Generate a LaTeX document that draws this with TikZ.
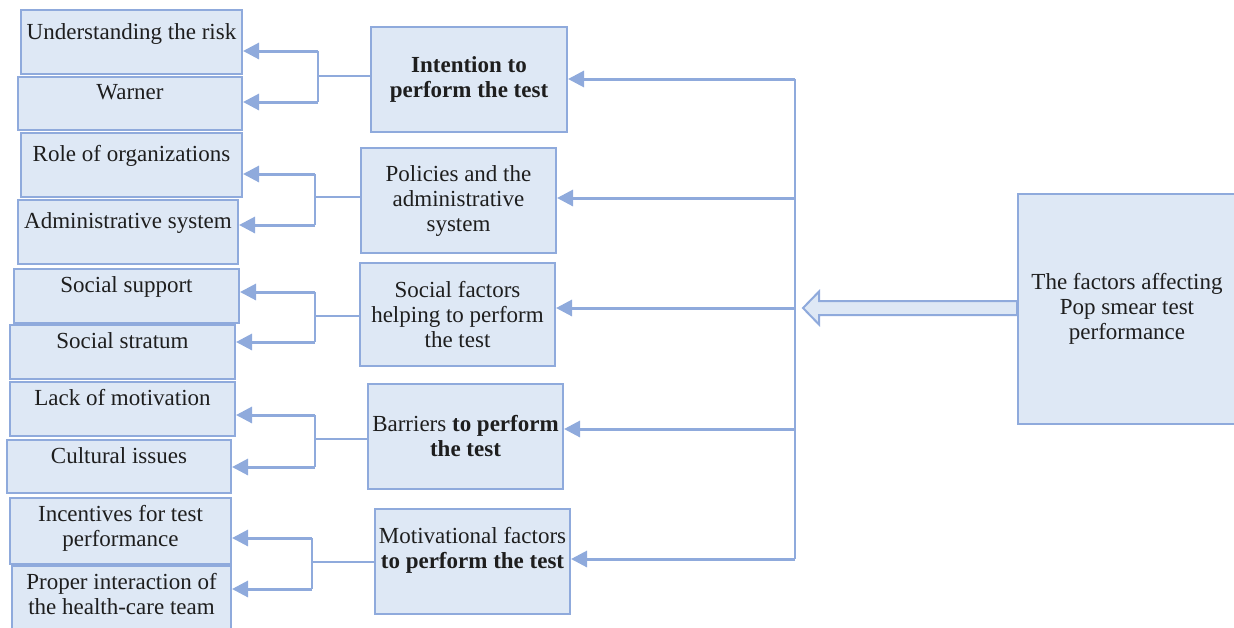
\documentclass[tikz,border=0pt]{standalone}
\usepackage{fontspec}
\setmainfont{Liberation Serif}
\usetikzlibrary{arrows.meta,calc}

\definecolor{boxline}{HTML}{8FAADC}
\definecolor{boxfill}{HTML}{DEE8F5}
\definecolor{inktext}{HTML}{1E1E1E}

\tikzset{
  leaf/.style={draw=boxline, fill=boxfill, line width=1pt, inner sep=0pt},
  toptext/.style={anchor=north, inner sep=0pt, yshift=-4pt, align=center},
  factor/.style={draw=boxline, fill=boxfill, line width=1pt, align=center, inner sep=2pt},
  fatarrow/.style={draw=boxline, line width=1.5pt, -{Triangle[length=8pt,width=8pt]}},
  thinline/.style={draw=boxline, line width=0.6pt},
  busline/.style={draw=boxline, line width=0.9pt},
  bigarrow/.style={draw=boxline, fill=boxfill, line width=1pt}
}

\begin{document}
\begin{tikzpicture}[x=0.5pt, y=-0.5pt, font=\fontsize{11.5}{12.5}\selectfont, text=inktext]
    \useasboundingbox (0,0) rectangle (1234,627);
    % Left column
    \node[leaf, minimum width=110.5pt, minimum height=32pt, label={[toptext, yshift=-3pt]north:Understanding the risk}] (risk) at (131.5,42) {};
    \node[leaf, minimum width=112pt, minimum height=26.5pt, label={[toptext]north:Warner}] (warner) at (130,103.5) {};
    \node[leaf, minimum width=110.5pt, minimum height=32pt, label={[toptext, yshift=-2.5pt]north:Role of organizations}] (roleorg) at (131.5,165) {};
    \node[leaf, minimum width=110pt, minimum height=32pt, label={[toptext, yshift=-2.5pt]north:Administrative system}] (admin) at (128,232) {};
    \node[leaf, minimum width=112.5pt, minimum height=27pt, label={[toptext]north:Social support}] (support) at (126.5,296) {};
    \node[leaf, minimum width=112.5pt, minimum height=27pt, label={[toptext]north:Social stratum}] (stratum) at (122.5,352) {};
    \node[leaf, minimum width=112.5pt, minimum height=27pt, label={[toptext]north:Lack of motivation}] (lack) at (122.5,409) {};
    \node[leaf, minimum width=112pt, minimum height=26.5pt, label={[toptext]north:Cultural issues}] (cultural) at (119,466.5) {};
    \node[leaf, minimum width=110.5pt, minimum height=33pt, label={[toptext]north:Incentives for test\\performance}] (incent) at (120.5,531) {};
    \node[leaf, minimum width=109.5pt, minimum height=32pt, label={[toptext]north:Proper interaction of\\the health-care team}] (proper) at (121.5,598) {};
    % Middle column
    \node[factor, minimum width=98pt, minimum height=52.5pt] (intent) at (469,79.5) {\textbf{Intention to}\\\textbf{perform the test}};
    \node[factor, minimum width=97.5pt, minimum height=52.5pt] (policy) at (458.5,200.5) {Policies and the\\administrative\\system};
    \node[factor, minimum width=97.5pt, minimum height=51.5pt] (social) at (457.5,314.5) {Social factors\\helping to perform\\the test};
    \node[factor, minimum width=97.5pt, minimum height=52.5pt] (barrier) at (465.5,436.5) {Barriers \textbf{to perform}\\\textbf{the test}};
    \node[factor, minimum width=97.5pt, minimum height=52.5pt,
          label={[name=motivtext, anchor=center, align=center, yshift=5.5pt]center:Motivational factors\\\textbf{to perform the test}}] (motiv) at (472.5,561.5) {};
    % Right box
    \node[factor, minimum width=109pt, minimum height=115pt] (factors) at (1127,309) {The factors affecting\\Pop smear test\\performance};
    % Hollow arrow to the bus
    \draw[bigarrow] ($(factors.west)+(0,-8)$) -- (819,301) -- (819,291.5) -- (803,308)
        -- (819,324.5) -- (819,315) -- ($(factors.west)+(0,6)$) -- cycle;
    % Bus
    \coordinate (b1) at (795,79);
    \coordinate (b2) at (795,198);
    \coordinate (b3) at (795,308);
    \coordinate (b4) at (795,429);
    \coordinate (b5) at (795,559);
    \draw[busline] (b1) -- (b5);
    \draw[fatarrow] (b1) -- (intent.east |- b1);
    \draw[fatarrow] (b2) -- (policy.east |- b2);
    \draw[fatarrow] (b3) -- (social.east |- b3);
    \draw[fatarrow] (b4) -- (barrier.east |- b4);
    \draw[fatarrow] (b5) -- (motiv.east |- b5);
    % Intention
    \coordinate (ia) at (318,51);
    \coordinate (ib) at (318,102);
    \coordinate (im) at (318,76);
    \draw[thinline] (intent.west |- im) -- (im);
    \draw[thinline] (ia) -- (ib);
    \draw[fatarrow] (ia) -- (risk.east |- ia);
    \draw[fatarrow] (ib) -- (warner.east |- ib);
    % Policies
    \coordinate (pa) at (315,174);
    \coordinate (pb) at (315,225);
    \coordinate (pm) at (315,197);
    \draw[thinline] (policy.west |- pm) -- (pm);
    \draw[thinline] (pa) -- (pb);
    \draw[fatarrow] (pa) -- (roleorg.east |- pa);
    \draw[fatarrow] (pb) -- (admin.east |- pb);
    % Social factors
    \coordinate (sa) at (315,292);
    \coordinate (sb) at (315,342);
    \coordinate (sm) at (315,316);
    \draw[thinline] (social.west |- sm) -- (sm);
    \draw[thinline] (sa) -- (sb);
    \draw[fatarrow] (sa) -- (support.east |- sa);
    \draw[fatarrow] (sb) -- (stratum.east |- sb);
    % Barriers
    \coordinate (ba) at (315,415);
    \coordinate (bb) at (315,467);
    \coordinate (bm) at (315,439);
    \draw[thinline] (barrier.west |- bm) -- (bm);
    \draw[thinline] (ba) -- (bb);
    \draw[fatarrow] (ba) -- (lack.east |- ba);
    \draw[fatarrow] (bb) -- (cultural.east |- bb);
    % Motivational factors
    \coordinate (ma) at (312,538);
    \coordinate (mb) at (312,589);
    \coordinate (mm) at (312,562);
    \draw[thinline] (motiv.west |- mm) -- (mm);
    \draw[thinline] (ma) -- (mb);
    \draw[fatarrow] (ma) -- (incent.east |- ma);
    \draw[fatarrow] (mb) -- (proper.east |- mb);
\end{tikzpicture}
\end{document}
